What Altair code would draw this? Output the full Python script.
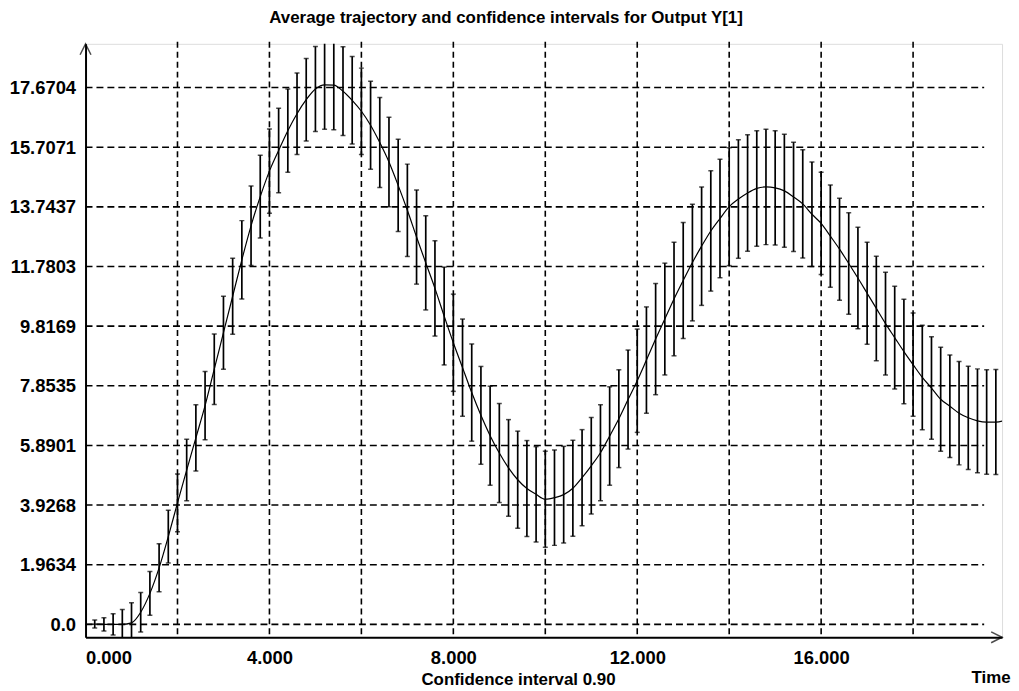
import altair as alt
import pandas as pd

# ---------------- data ----------------
times = [round(0.2 * i, 1) for i in range(101)]  # 0.0 .. 20.0

mean_y = [0.0,
          0.01, 0.0, 0.0, 0.0, 0.05, 0.40, 1.02, 1.86, 2.89, 4.00,
          5.08, 6.14, 7.20, 8.40, 9.60, 10.80, 12.00, 13.12, 14.08, 14.92,
          15.60, 16.25, 16.81, 17.27, 17.62, 17.76, 17.75, 17.55, 17.25, 16.89,
          16.43, 15.86, 15.22, 14.45, 13.63, 12.75, 11.90, 11.06, 10.15, 9.27,
          8.45, 7.63, 6.88, 6.21, 5.64, 5.15, 4.76, 4.47, 4.28, 4.12,
          4.17, 4.27, 4.48, 4.83, 5.22, 5.65, 6.20, 6.77, 7.40, 8.02,
          8.70, 9.39, 10.05, 10.71, 11.32, 11.91, 12.45, 12.95, 13.36, 13.75,
          14.00, 14.20, 14.35, 14.40, 14.37, 14.27, 14.07, 13.84, 13.50, 13.20,
          12.78, 12.35, 11.88, 11.40, 10.90, 10.40, 9.90, 9.44, 8.98, 8.55,
          8.13, 7.78, 7.41, 7.18, 6.95, 6.80, 6.70, 6.66, 6.66, 6.72]

# half width of the 0.90 confidence interval at t = 0.2 .. 19.8
ci_half = [0.13, 0.22, 0.35, 0.49, 0.66, 0.65, 0.72, 0.79, 0.87, 0.95,
           1.01, 1.09, 1.12, 1.16, 1.20, 1.25, 1.29, 1.31, 1.36, 1.39,
           1.39, 1.37, 1.34, 1.36, 1.40, 1.46, 1.47, 1.46, 1.44, 1.42,
           1.45, 1.48, 1.47, 1.52, 1.52, 1.55, 1.55, 1.57, 1.61, 1.60,
           1.60, 1.60, 1.61, 1.63, 1.63, 1.59, 1.60, 1.58, 1.57, 1.58,
           1.57, 1.59, 1.58, 1.58, 1.59, 1.58, 1.62, 1.61, 1.63, 1.70,
           1.75, 1.83, 1.84, 1.87, 1.91, 1.92, 1.95, 1.98, 1.95, 1.94,
           1.95, 1.92, 1.90, 1.90, 1.88, 1.86, 1.80, 1.78, 1.72, 1.68,
           1.68, 1.68, 1.67, 1.67, 1.68, 1.72, 1.69, 1.69, 1.72, 1.70,
           1.72, 1.69, 1.71, 1.69, 1.70, 1.70, 1.71, 1.72, 1.73]

y_tick_values = [0.0, 1.9634, 3.9268, 5.8901, 7.8535, 9.8169, 11.7803, 13.7437, 15.7071, 17.6704]
y_tick_labels = ["0.0", "1.9634", "3.9268", "5.8901", "7.8535", "9.8169",
                 "11.7803", "13.7437", "15.7071", "17.6704"]
x_tick_values = [0, 4, 8, 12, 16]
x_grid_values = [2, 4, 6, 8, 10, 12, 14, 16, 18]

title_text = "Average trajectory and confidence intervals for Output Y[1]"
x_title = "Confidence interval 0.90"
x_end_label = "Time"

# ---------------- tables ----------------
line_df = pd.DataFrame({"t": times, "mean": mean_y})
bar_t = times[1:100]
bar_mean = mean_y[1:100]
bars_df = pd.DataFrame({
    "t": bar_t,
    "lo": [m - h for m, h in zip(bar_mean, ci_half)],
    "hi": [m + h for m, h in zip(bar_mean, ci_half)],
})
hgrid_df = pd.DataFrame({"g": y_tick_values})
vgrid_df = pd.DataFrame({"g": x_grid_values})

FONT = "Liberation Sans"
W, H = 922, 597

xscale = alt.Scale(domain=[0, 19.935], nice=False, zero=False)
yscale = alt.Scale(domain=[-0.425, 19.11], nice=False, zero=False)

label_expr = " : ".join(
    f"datum.value == {v} ? '{l}'" for v, l in zip(y_tick_values, y_tick_labels)
) + " : ''"

x_axis = alt.Axis(values=x_tick_values, format=".3f", labelFlush=True, grid=False,
                  ticks=False, domain=True, domainColor="#000", domainWidth=2,
                  labelFont=FONT, labelFontSize=18.5, labelFontWeight="bold",
                  labelColor="#000", labelPadding=11,
                  title=x_title, titleFont=FONT, titleFontSize=17, titleFontWeight="bold",
                  titleColor="#000", titleX=435, titleY=48, titleAlign="center",
                  titleBaseline="alphabetic")
y_axis = alt.Axis(values=y_tick_values, labelExpr=label_expr, grid=False, ticks=False,
                  domain=True, domainColor="#000", domainWidth=2,
                  labelFont=FONT, labelFontSize=18.5, labelFontWeight="bold",
                  labelColor="#000", labelPadding=10, title=None)

# ---------------- layers ----------------
hgrid = alt.Chart(hgrid_df).mark_rule(color="#000", strokeWidth=1.6, strokeDash=[7, 4]).encode(
    y=alt.Y("g:Q", scale=yscale, axis=y_axis),
    x=alt.value(0), x2=alt.value(904),
)
vgrid = alt.Chart(vgrid_df).mark_rule(color="#000", strokeWidth=1.6, strokeDash=[6, 4]).encode(
    x=alt.X("g:Q", scale=xscale, axis=x_axis),
    y=alt.value(-2), y2=alt.value(H),
)
bars = alt.Chart(bars_df).mark_rule(color="#000", strokeWidth=1.7, clip=True).encode(
    x=alt.X("t:Q", scale=xscale, axis=x_axis),
    y=alt.Y("lo:Q", scale=yscale, axis=y_axis),
    y2="hi:Q",
)
cap_lo = alt.Chart(bars_df).mark_tick(color="#000", orient="horizontal", size=5,
                                      thickness=1.5, clip=True).encode(
    x=alt.X("t:Q", scale=xscale, axis=x_axis),
    y=alt.Y("lo:Q", scale=yscale, axis=y_axis),
)
cap_hi = alt.Chart(bars_df).mark_tick(color="#000", orient="horizontal", size=5,
                                      thickness=1.5, clip=True).encode(
    x=alt.X("t:Q", scale=xscale, axis=x_axis),
    y=alt.Y("hi:Q", scale=yscale, axis=y_axis),
)
line = alt.Chart(line_df).mark_line(color="#000", strokeWidth=1.2, interpolate="monotone",
                                    clip=True).encode(
    x=alt.X("t:Q", scale=xscale, axis=x_axis),
    y=alt.Y("mean:Q", scale=yscale, axis=y_axis),
)
one = alt.Data(values=[{"k": 1}])
arrow_y = alt.Chart(one).mark_point(shape="M-0.5,1L0,0L0.5,1", filled=False, color="#000",
                                    strokeWidth=1.5, size=480).encode(
    x=alt.value(0), y=alt.value(0))
arrow_x = alt.Chart(one).mark_point(shape="M-1,-0.5L0,0L-1,0.5", filled=False, color="#000",
                                    strokeWidth=1.5, size=480).encode(
    x=alt.value(W), y=alt.value(H))
time_lbl = alt.Chart(one).mark_text(text=x_end_label, font=FONT, fontSize=17, fontWeight="bold",
                                    color="#000", align="center", baseline="alphabetic").encode(
    x=alt.value(911), y=alt.value(643))

chart = alt.layer(hgrid, vgrid, bars, cap_lo, cap_hi, line, arrow_y, arrow_x, time_lbl).properties(
    width=W, height=H,
    title=alt.TitleParams(text=title_text, font=FONT, fontSize=17, fontWeight="bold",
                          color="#000", anchor="middle", dx=-38, offset=14),
    autosize=alt.AutoSizeParams(type="none"),
    padding={"left": 78, "top": 34, "right": 9, "bottom": 50},
).configure_view(stroke=None).configure(background="#ffffff")

chart.save("out.html", embed_options={"renderer": "svg", "actions": False})
